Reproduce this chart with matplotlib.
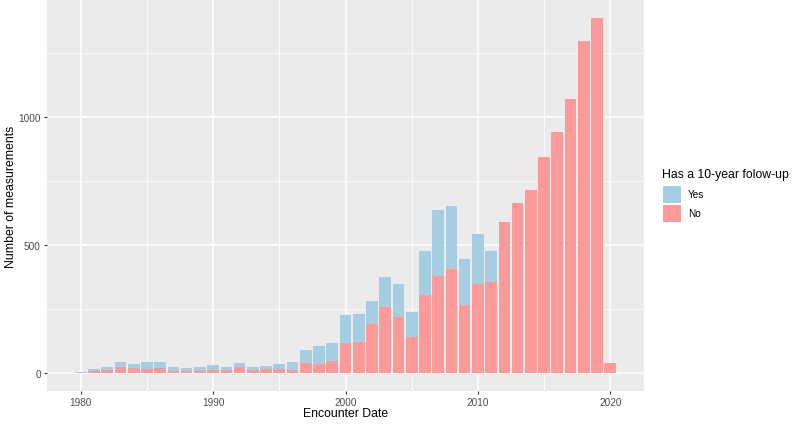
import matplotlib
matplotlib.use("Agg")
import matplotlib.pyplot as plt
from matplotlib.patches import Rectangle
import numpy as np

years = list(range(1980, 2021))
no_counts = [0, 10, 14, 25, 21, 17, 22, 10, 9, 8,
             14, 12, 23, 14, 16, 18, 13, 40, 35, 47,
             118, 121, 191, 258, 221, 142, 305, 378, 406, 266,
             349, 355, 590, 665, 716, 844, 941, 1070, 1298, 1389,
             40]
yes_counts = [4, 7, 9, 17, 17, 26, 22, 15, 13, 17,
              17, 14, 16, 12, 14, 17, 29, 49, 73, 70,
              110, 112, 90, 118, 129, 96, 174, 259, 248, 179,
              197, 122, 0, 0, 0, 0, 0, 0, 0, 0,
              0]
legend_title = "Has a 10-year folow-up"
labels = ["Yes", "No"]
colors = {"Yes": "#A6CEE3", "No": "#FB9A99"}
x_ticks = [1980, 1990, 2000, 2010, 2020]
y_ticks = [0, 500, 1000]

plt.rcParams['font.family'] = ['Liberation Sans', 'DejaVu Sans']

W, H = 800, 427
fig = plt.figure(figsize=(8, 4.27), dpi=100)
ax = fig.add_axes([47/W, 1 - 392/H, (644-47)/W, (392-1)/H])
ax.set_facecolor("#EBEBEB")

no_arr = np.array(no_counts)
yes_arr = np.array(yes_counts)
ax.bar(years, no_arr, width=0.88, color=colors["No"], zorder=3)
ax.bar(years, yes_arr, width=0.88, bottom=no_arr, color=colors["Yes"], zorder=3)

tot_max = (no_arr + yes_arr).max()
ax.set_ylim(-0.05 * tot_max, 1.05 * tot_max)
ax.set_xlim(1979.5 - 0.05 * 41, 2020.5 + 0.05 * 41)

ax.set_xticks(x_ticks)
ax.set_yticks(y_ticks)
ax.set_xticks([1985, 1995, 2005, 2015], minor=True)
ax.set_yticks([250, 750, 1250], minor=True)
ax.grid(which="major", color="white", linewidth=1.1, zorder=0)
ax.grid(which="minor", color="white", linewidth=0.55, zorder=0)
ax.set_axisbelow(True)
for s in ax.spines.values():
    s.set_visible(False)
ax.tick_params(which="major", length=2.5, color="#333333", labelsize=7.2,
               labelcolor="#4D4D4D", width=0.8, pad=2)
ax.tick_params(which="minor", length=0)

ax.set_xlabel("Encounter Date", fontsize=8.8)
ax.set_ylabel("Number of measurements", fontsize=8.8)
ax.xaxis.label.set_va("center")
ax.yaxis.label.set_va("center")
ax.xaxis.set_label_coords((345.5 - 47) / 597, (392 - 414) / 391)
ax.yaxis.set_label_coords((11.5 - 47) / 597, 0.5)

# legend (ggplot-style, placed in figure pixel coordinates)
fig.text(662/W, 1 - 175/H, legend_title, fontsize=8.8, ha="left", va="center")
key_tops = [187, 206]
for lab, top in zip(labels, key_tops):
    fig.add_artist(Rectangle((663/W, 1 - (top + 17)/H), 18/W, 17/H,
                             transform=fig.transFigure, facecolor=colors[lab],
                             edgecolor="none"))
    fig.text(688/W, 1 - (top + 8.5)/H, lab, fontsize=7.2, ha="left", va="center")

fig.savefig("out.png", dpi=100)
